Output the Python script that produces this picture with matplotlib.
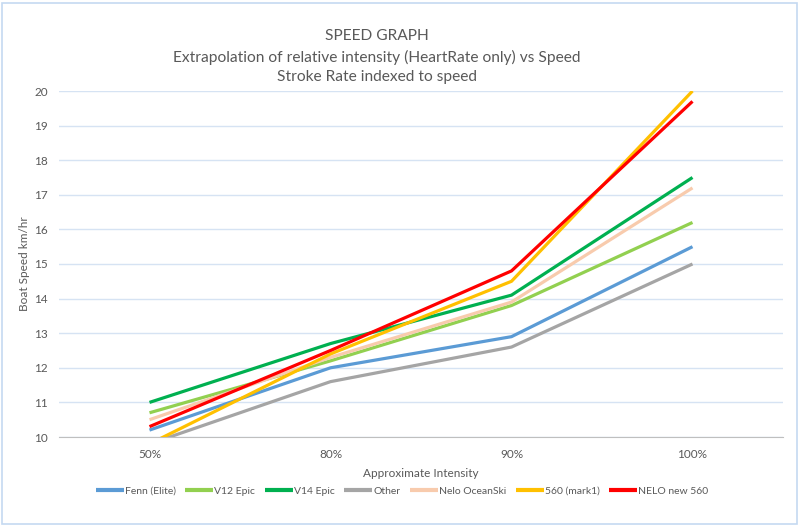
import matplotlib
matplotlib.use("Agg")
import matplotlib.pyplot as plt
from matplotlib.patches import Rectangle

categories = ["50%", "80%", "90%", "100%"]
series_names = ["Fenn (Elite)", "V12 Epic", "V14 Epic", "Other",
                "Nelo OceanSki", "560 (mark1)", "NELO new 560"]
fenn = [10.2, 12.0, 12.9, 15.5]
v12 = [10.7, 12.2, 13.8, 16.2]
v14 = [11.0, 12.7, 14.1, 17.5]
other = [9.8, 11.6, 12.6, 15.0]
nelo_oceanski = [10.5, 12.3, 13.9, 17.2]
mark1_560 = [9.8, 12.4, 14.5, 20.0]
nelo_new_560 = [10.3, 12.5, 14.8, 19.7]
yticks = list(range(10, 21))

series = [fenn, v12, v14, other, nelo_oceanski, mark1_560, nelo_new_560]
colors = ["#5B9BD5", "#92D050", "#00B050", "#A5A5A5", "#F8CBAD", "#FFC000", "#FF0000"]

plt.rcParams['font.family'] = ['Lato', 'DejaVu Sans']
txt = "#595959"

fig = plt.figure(figsize=(8, 5.27), dpi=100)
ax = fig.add_axes([59/800, 1-437/527, (783-59)/800, (437-91)/527])

x = list(range(len(categories)))
for name, vals, c in zip(series_names, series, colors):
    ax.plot(x, vals, color=c, lw=2.3, label=name, solid_capstyle='butt', zorder=3)

ax.set_xlim(-0.5, len(categories)-0.5)
ax.set_ylim(10, 20)
ax.set_yticks(yticks)
ax.set_xticks(x)
ax.set_xticklabels(categories)
ax.tick_params(axis='both', length=0, colors=txt, labelsize=8.5)
ax.tick_params(axis='y', pad=8)
ax.tick_params(axis='x', pad=9)
ax.grid(axis='y', color='#D6E3F3', lw=1, zorder=0)
for s in ['top', 'right', 'left']:
    ax.spines[s].set_visible(False)
ax.spines['bottom'].set_color('#BFBFBF')
ax.spines['bottom'].set_zorder(2)

ax.set_ylabel("Boat Speed km/hr", color=txt, fontsize=8.5)
ax.yaxis.set_label_coords((30-59)/724, 0.5)
ax.set_xlabel("Approximate Intensity", color=txt, fontsize=8.5)
ax.xaxis.set_label_coords(0.5, -(468-437)/346)

fig.text(377/800, 1-36/527, "SPEED GRAPH", ha='center', va='center', fontsize=11.2, color=txt)
fig.text(377/800, 1-57/527, "Extrapolation of relative intensity (HeartRate only) vs Speed",
         ha='center', va='center', fontsize=11.2, color=txt)
fig.text(377/800, 1-77/527, "Stroke Rate indexed to speed", ha='center', va='center',
         fontsize=11.2, color=txt)

leg = fig.legend(loc='center', bbox_to_anchor=(402/800, 1-491/527), ncol=7, frameon=False,
                 fontsize=7.5, handlelength=2.7, handletextpad=0.1, columnspacing=0.9)
for t in leg.get_texts():
    t.set_color(txt)
for h in leg.legend_handles:
    h.set_linewidth(3)

fig.patches.append(Rectangle((2/800, 3/527), 795/800, 521/527, transform=fig.transFigure,
                             fill=False, edgecolor='#C5D9F1', lw=1.2))

fig.savefig("out.png", dpi=100)
